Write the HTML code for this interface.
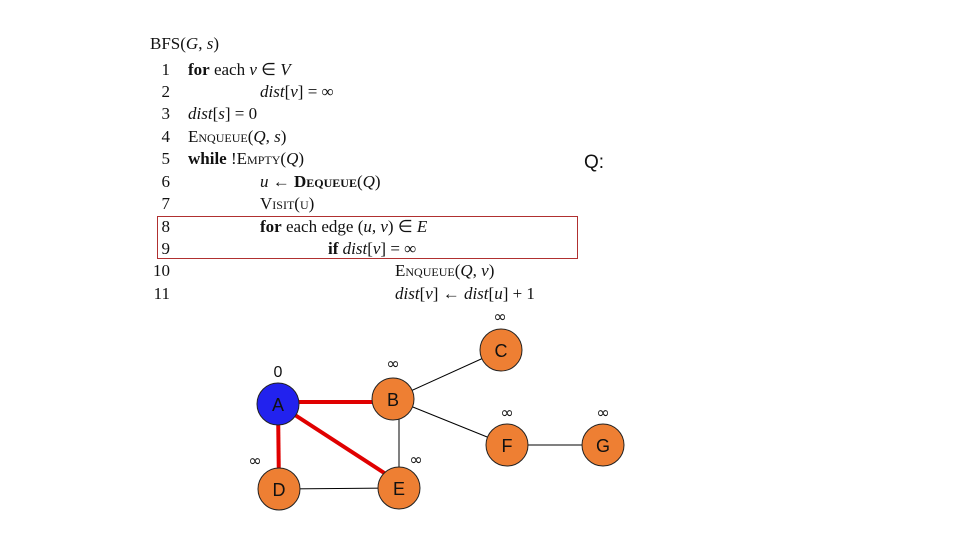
<!DOCTYPE html>
<html><head><style>
body{margin:0;background:#fff;width:960px;height:540px;overflow:hidden;position:relative;font-family:"Liberation Serif",serif;}
.t{position:absolute;font-size:17px;color:#111;white-space:nowrap;line-height:1;}
.n{position:absolute;font-size:17px;color:#111;width:20px;text-align:right;left:150px;line-height:1;}
i{font-style:italic}
.sc{font-variant:small-caps}
</style></head><body>
<div class="t" style="left:150px;top:35px">BFS(<i>G</i>, <i>s</i>)</div>
<div class="n" style="top:61px">1</div><div class="t" style="left:188px;top:61px"><b>for</b> each <i>v</i> ∈ <i>V</i></div>
<div class="n" style="top:83px">2</div><div class="t" style="left:260px;top:83px"><i>dist</i>[<i>v</i>] = ∞</div>
<div class="n" style="top:105px">3</div><div class="t" style="left:188px;top:105px"><i>dist</i>[<i>s</i>] = 0</div>
<div class="n" style="top:128px">4</div><div class="t" style="left:188px;top:128px"><span class="sc">Enqueue</span>(<i>Q</i>, <i>s</i>)</div>
<div class="n" style="top:150px">5</div><div class="t" style="left:188px;top:150px"><b>while</b> !<span class="sc">Empty</span>(<i>Q</i>)</div>
<div class="n" style="top:173px">6</div><div class="t" style="left:260px;top:173px"><i>u</i> ← <b class="sc">Dequeue</b>(<i>Q</i>)</div>
<div class="n" style="top:195px">7</div><div class="t" style="left:260px;top:195px"><span class="sc">Visit</span>(<span class="sc">u</span>)</div>
<div class="n" style="top:218px">8</div><div class="t" style="left:260px;top:218px"><b>for</b> each edge (<i>u</i>, <i>v</i>) ∈ <i>E</i></div>
<div class="n" style="top:240px">9</div><div class="t" style="left:328px;top:240px"><b>if</b> <i>dist</i>[<i>v</i>] = ∞</div>
<div class="n" style="top:262px">10</div><div class="t" style="left:395px;top:262px"><span class="sc">Enqueue</span>(<i>Q</i>, <i>v</i>)</div>
<div class="n" style="top:285px">11</div><div class="t" style="left:395px;top:285px"><i>dist</i>[<i>v</i>] ← <i>dist</i>[<i>u</i>] + 1</div>
<div style="position:absolute;left:157px;top:216px;width:419px;height:41px;border:1px solid #b03030"></div>
<div style="position:absolute;left:584px;top:152px;font-family:'Liberation Sans',sans-serif;font-size:19px;color:#111">Q:</div>
<svg width="960" height="540" style="position:absolute;left:0;top:0">
<g stroke="#000" stroke-width="1">
<line x1="393" y1="399" x2="501" y2="350"/>
<line x1="393" y1="399" x2="507" y2="445"/>
<line x1="399" y1="399" x2="399" y2="488"/>
<line x1="279" y1="489" x2="399" y2="488"/>
<line x1="507" y1="445" x2="603" y2="445"/>
</g>
<g stroke="#e00000" stroke-width="4">
<line x1="278" y1="402" x2="393" y2="402"/>
<line x1="278" y1="404" x2="279" y2="489"/>
<line x1="278" y1="404" x2="392" y2="478"/>
</g>
<g stroke="#222" stroke-width="1" fill="#ee7f33">
<circle cx="278" cy="404" r="21" fill="#2222ee"/>
<circle cx="393" cy="399" r="21"/>
<circle cx="501" cy="350" r="21"/>
<circle cx="279" cy="489" r="21"/>
<circle cx="399" cy="488" r="21"/>
<circle cx="507" cy="445" r="21"/>
<circle cx="603" cy="445" r="21"/>
</g>
<g font-family="Liberation Sans, sans-serif" font-size="18" fill="#111" text-anchor="middle">
<text x="278" y="411">A</text><text x="393" y="406">B</text><text x="501" y="357">C</text>
<text x="279" y="496">D</text><text x="399" y="495">E</text><text x="507" y="452">F</text><text x="603" y="452">G</text>
<text x="278" y="377" font-size="16">0</text>
</g>
<g font-family="DejaVu Sans, sans-serif" font-size="16" fill="#111" text-anchor="middle">
<text x="393" y="369">∞</text><text x="500" y="322">∞</text><text x="507" y="418">∞</text>
<text x="603" y="418">∞</text><text x="255" y="466">∞</text><text x="416" y="465">∞</text>
</g>
</svg>
</body></html>
